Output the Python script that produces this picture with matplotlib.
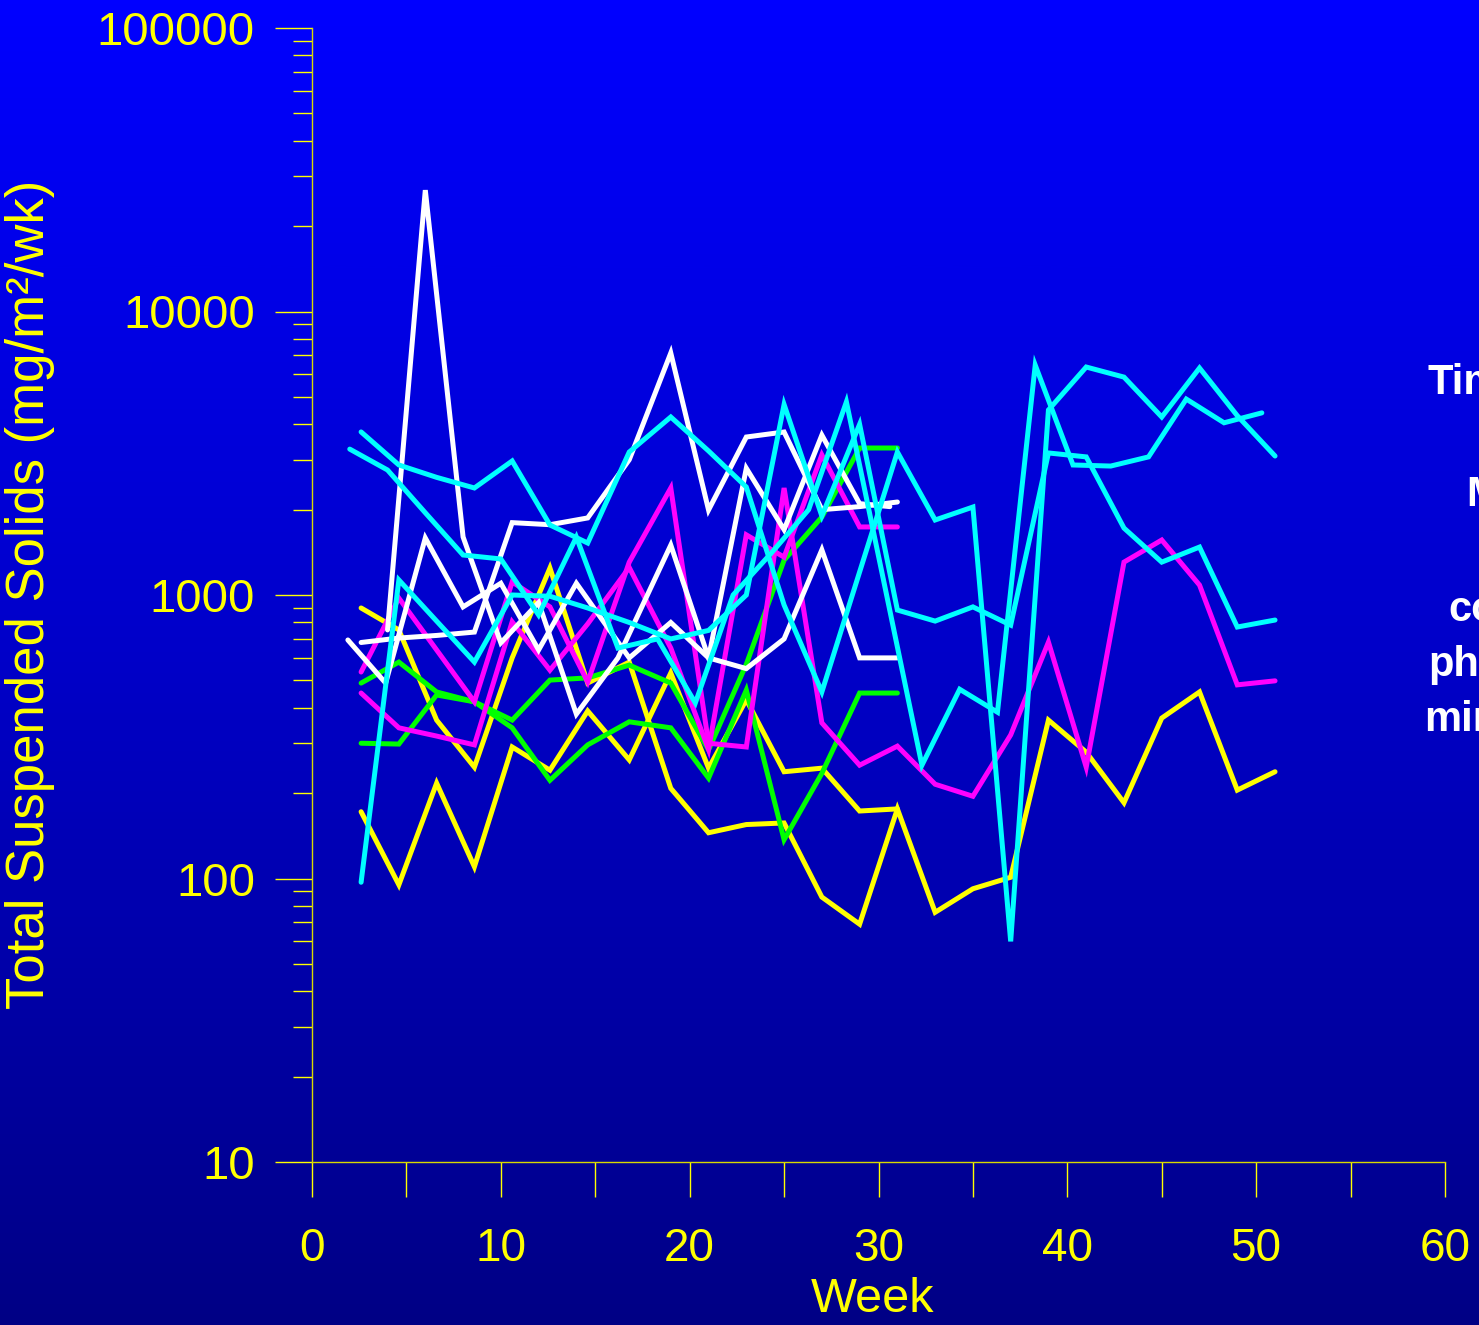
import numpy as np
import matplotlib
matplotlib.use("Agg")
import matplotlib.pyplot as plt
from matplotlib.colors import LinearSegmentedColormap
from matplotlib.ticker import FixedLocator, NullFormatter

plt.rcParams['font.family'] = ['Liberation Sans', 'DejaVu Sans']

# ---------------- data (week, TSS mg/m2/wk) ----------------
weeks_a15 = [2.6, 4.6, 6.6, 8.6, 10.6, 12.6, 14.6, 16.8, 19, 21, 23, 25, 27, 29, 31]
weeks_a25 = weeks_a15 + [33, 35, 37, 39, 41, 43, 45, 47, 49, 51]
weeks_b25 = [2.0, 4.0, 6.0, 8.0, 10.0, 12.0, 14.0, 16.2, 18.3, 20.3, 22.3, 24.3, 26.3,
             28.3, 30.3, 32.3, 34.3, 36.3, 38.3, 40.3, 42.3, 44.3, 46.3, 48.3, 50.3]
weeks_w2 = [4.0, 6.0, 8.0, 10.0, 12.0, 14.0, 16.2, 19.0, 21.0, 23.0, 25.0, 27.0, 29.0, 30.6]
weeks_w3 = [1.9, 3.9, 6.0, 8.0, 10.0, 12.0, 14.0, 16.8, 19, 21, 23, 25, 27, 29, 31]

cyan_1 = [3760, 2875, 2600, 2385, 2970, 1766, 1525, 3194, 4245, 3222, 2404, 922, 455,
          1206, 3194, 1839, 2043, 60, 4494, 6370, 5870, 4245, 6320, 4290, 3092]
cyan_2 = [97, 1130, 809, 580, 1000, 990, 900, 800, 700, 750, 1000, 4700, 1900,
          4000, 885, 809, 908, 783, 3170, 3070, 1722, 1306, 1476, 771, 816]
cyan_3 = [3270, 2760, 1950, 1384, 1340, 850, 1600, 650, 700, 416, 1000, 1400, 2000,
          4800, 1100, 251, 465, 386, 6470, 2875, 2850, 3070, 4910, 4050, 4390]

magenta_1 = [535, 975, 640, 420, 1112, 908, 493, 1306, 2385, 300, 291, 2385, 354,
             251, 293, 215, 195, 321, 682, 247, 1306, 1563, 1084, 482, 498]
magenta_2 = [451, 340, 318, 296, 804, 543, 791, 1250, 650, 285, 1630, 1360, 3120,
             1738, 1738]

green_1 = [489, 580, 455, 420, 340, 222, 296, 357, 340, 226, 462, 137, 235, 451, 451]
green_2 = [300, 298, 444, 420, 362, 501, 510, 566, 489, 284, 570, 1327, 1884, 3300, 3300]

yellow_1 = [900, 753, 362, 247, 600, 1245, 489, 580, 208, 145, 155, 157, 86, 69, 176,
            76, 92, 101, 362, 279, 185, 368, 455, 205, 238]
yellow_2 = [172, 95, 217, 110, 291, 241, 390, 262, 531, 245, 427, 238, 245, 173, 176]

white_1 = [680, 705, 720, 740, 1800, 1770, 1870, 3000, 7140, 1995, 3608, 3758, 2000,
           2050, 2128]
white_2 = [753, 26800, 1603, 678, 940, 380, 600, 1500, 600, 2800, 1700, 3664, 2100, 2050]
white_3 = [694, 489, 1589, 908, 1100, 640, 1100, 600, 800, 600, 550, 700, 1443, 600, 600]

x_ticks_major = [0, 10, 20, 30, 40, 50, 60]
x_ticks_minor = [5, 15, 25, 35, 45, 55]
y_ticks = [10, 100, 1000, 10000, 100000]
y_labels = ['10', '100', '1000', '10000', '100000']

side_texts = ['Time', 'Mean', 'conc.', 'phos.', 'min.']

# ---------------- figure ----------------
W, H = 1479, 1325
fig = plt.figure(figsize=(W / 100, H / 100), dpi=100)
PX = 72 / 100  # points per pixel

bg = fig.add_axes([0, 0, 1, 1], zorder=-10)
grad = np.linspace(0, 1, 512).reshape(-1, 1)
cmap = LinearSegmentedColormap.from_list('bg', ['#0000FF', '#0000C8', '#000085'])
bg.imshow(grad, aspect='auto', cmap=cmap, extent=[0, 1, 0, 1], origin='upper')
bg.axis('off')

ax = fig.add_axes([312 / W, 1 - 1162 / H, (1445 - 312) / W, (1162 - 28) / H])
ax.patch.set_alpha(0)
ax.set_yscale('log')
ax.set_xlim(0, 60)
ax.set_ylim(10, 100000)

lw = 3.6
series = [
    (weeks_a25, yellow_1, '#FFFF00'),
    (weeks_a15, yellow_2, '#FFFF00'),
    (weeks_a15, green_1, '#00FF00'),
    (weeks_a15, green_2, '#00FF00'),
    (weeks_a25, magenta_1, '#FF00FF'),
    (weeks_a15, magenta_2, '#FF00FF'),
    (weeks_a15, white_1, '#FFFFFF'),
    (weeks_w2, white_2, '#FFFFFF'),
    (weeks_w3, white_3, '#FFFFFF'),
    (weeks_a25, cyan_1, '#00FFFF'),
    (weeks_a25, cyan_2, '#00FFFF'),
    (weeks_b25, cyan_3, '#00FFFF'),
]
for xs, ys, c in series:
    ax.plot(xs, ys, color=c, lw=lw, solid_joinstyle='miter', solid_capstyle='round',
            clip_on=False)

for s in ['top', 'right']:
    ax.spines[s].set_visible(False)
for s in ['left', 'bottom']:
    ax.spines[s].set_color('#D8D800')
    ax.spines[s].set_linewidth(1.0)

ax.xaxis.set_major_locator(FixedLocator(x_ticks_major))
ax.xaxis.set_minor_locator(FixedLocator(x_ticks_minor))
ax.set_xticklabels([str(v) for v in x_ticks_major])
ax.xaxis.set_minor_formatter(NullFormatter())
ax.tick_params(axis='x', which='both', direction='out', length=35 * PX, width=1,
               color='#FFFF00', pad=30 * PX, labelsize=33, labelcolor='#FFFF00')

ax.yaxis.set_major_locator(FixedLocator(y_ticks))
ax.set_yticklabels(y_labels)
minors = [m * 10 ** e for e in range(1, 5) for m in range(2, 10)]
ax.yaxis.set_minor_locator(FixedLocator(minors))
ax.yaxis.set_minor_formatter(NullFormatter())
ax.tick_params(axis='y', which='major', direction='out', length=37 * PX, width=1,
               color='#FFFF00', pad=20 * PX, labelsize=34, labelcolor='#FFFF00')
ax.tick_params(axis='y', which='minor', direction='out', length=19 * PX, width=1,
               color='#FFFF00')

fig.text(30 / W, 1 - 594 / H, 'Total Suspended Solids (mg/m\u00b2/wk)', rotation=90,
         ha='center', va='center', color='#FFFF00', fontsize=38)
fig.text(873 / W, 1 - 1300 / H, 'Week', ha='center', va='center', color='#FFFF00',
         fontsize=35)

side_pos = [(1428, 383), (1466, 495), (1448, 610), (1428, 665), (1424, 720)]
for (px, py), t in zip(side_pos, side_texts):
    fig.text(px / W, 1 - py / H, t, ha='left', va='center', color='white',
             fontsize=30, fontweight='bold')

fig.savefig('out.png', dpi=100)
